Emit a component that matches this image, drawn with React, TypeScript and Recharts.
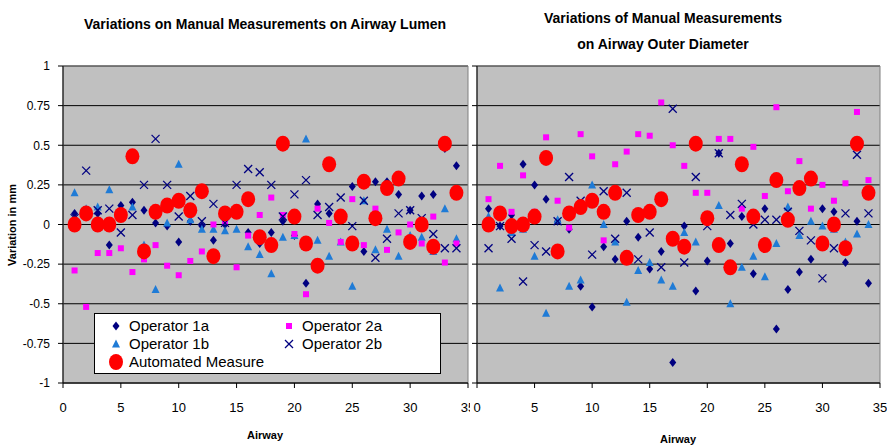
import { ScatterChart, Scatter, XAxis, YAxis, CartesianGrid, ReferenceArea } from "recharts";

// airway number on the x axis
const AIRWAY = [1, 2, 3, 4, 5, 6, 7, 8, 9, 10, 11, 12, 13, 14, 15, 16, 17, 18, 19, 20, 21, 22, 23, 24, 25, 26, 27, 28, 29, 30, 31, 32, 33, 34];

const X_TICKS = [0, 5, 10, 15, 20, 25, 30, 35];
const Y_TICKS = [-1, -0.75, -0.5, -0.25, 0, 0.25, 0.5, 0.75, 1];

// lumen (left panel)
const LUMEN_1A = [0.07, 0.06, 0.07, -0.13, 0.12, 0.14, 0.09, 0.01, -0.01, -0.11, 0.02, -0.01, -0.1, 0.0, 0.07, -0.05, -0.12, -0.05, 0.02, -0.07, -0.37, 0.13, 0.07, 0.03, 0.24, -0.17, 0.27, 0.27, 0.19, 0.09, 0.18, 0.19, 0.48, 0.37];
const LUMEN_1B = [0.2, 0.1, 0.11, 0.22, 0.08, 0.11, -0.13, -0.41, 0.01, 0.38, 0.03, -0.03, -0.03, -0.04, -0.03, -0.14, -0.19, -0.31, -0.08, -0.07, 0.54, -0.1, -0.2, -0.11, -0.39, 0.15, -0.16, -0.03, -0.2, -0.07, -0.08, -0.17, 0.1, -0.09];
const LUMEN_2A = [-0.29, -0.52, -0.18, -0.18, -0.15, -0.3, -0.22, -0.13, -0.26, -0.32, -0.23, -0.17, 0.0, 0.02, -0.27, -0.07, 0.06, 0.17, 0.06, -0.06, -0.44, 0.1, 0.01, -0.11, 0.16, -0.13, 0.1, -0.16, -0.05, 0.0, -0.12, 0.05, -0.24, -0.12];
const LUMEN_2B = [0.04, 0.34, 0.09, 0.1, -0.05, 0.06, 0.25, 0.54, 0.25, 0.05, 0.18, 0.02, 0.13, 0.01, 0.25, 0.35, 0.33, 0.25, 0.05, 0.19, 0.28, 0.06, 0.11, 0.17, -0.01, 0.15, -0.21, -0.09, 0.07, 0.09, 0.04, -0.06, -0.15, -0.15];
const LUMEN_AUTO = [0.0, 0.07, 0.0, 0.0, 0.06, 0.43, -0.17, 0.08, 0.12, 0.15, 0.09, 0.21, -0.2, 0.07, 0.08, 0.16, -0.08, -0.13, 0.51, 0.05, -0.12, -0.26, 0.38, 0.05, -0.12, 0.27, 0.04, 0.23, 0.29, -0.11, 0.0, -0.14, 0.51, 0.2];

// outer diameter (right panel)
const OUTER_1A = [0.1, -0.01, 0.06, 0.38, 0.25, 0.16, 0.02, -0.03, -0.39, -0.52, -0.14, -0.22, 0.02, -0.08, -0.28, -0.17, -0.87, -0.01, -0.42, -0.23, 0.45, -0.12, 0.05, -0.31, 0.1, -0.66, -0.41, -0.3, -0.22, 0.1, 0.08, -0.24, 0.02, -0.37];
const OUTER_1B = [0.05, -0.4, -0.05, -0.03, -0.2, -0.56, 0.03, -0.39, -0.35, 0.25, 0.0, -0.11, -0.49, -0.29, -0.24, -0.35, -0.39, -0.05, -0.11, 0.02, 0.12, -0.5, -0.27, -0.2, -0.33, -0.12, 0.11, -0.07, 0.02, -0.01, -0.03, -0.11, -0.06, 0.0];
const OUTER_2A = [0.16, 0.37, 0.08, 0.31, 0.08, 0.55, 0.15, -0.02, 0.57, 0.43, -0.1, 0.38, 0.46, 0.57, 0.56, 0.77, 0.5, 0.37, 0.2, 0.2, 0.54, 0.54, 0.1, 0.49, 0.18, 0.74, 0.21, 0.4, 0.1, 0.25, 0.15, 0.26, 0.71, 0.28];
const OUTER_2B = [-0.15, -0.01, -0.09, -0.36, -0.13, -0.17, 0.02, 0.3, 0.15, -0.19, 0.21, -0.09, 0.2, -0.22, -0.05, -0.27, 0.73, -0.24, 0.3, -0.01, 0.45, 0.06, 0.13, 0.0, 0.03, 0.03, 0.08, -0.04, -0.1, -0.34, -0.15, 0.07, 0.44, 0.07];
const OUTER_AUTO = [0.0, 0.07, -0.01, 0.0, 0.05, 0.42, -0.17, 0.07, 0.11, 0.15, 0.08, 0.2, -0.21, 0.06, 0.08, 0.16, -0.09, -0.14, 0.51, 0.04, -0.13, -0.27, 0.38, 0.05, -0.13, 0.28, 0.03, 0.23, 0.29, -0.12, 0.0, -0.15, 0.51, 0.2];

const FONT = "Arial, 'Liberation Sans', sans-serif";
const NAVY = "#000080";
const BLUE = "#1F7BD6";
const MAGENTA = "#FF00FF";
const RED = "#FF0000";

const toPoints = (ys: number[]) => AIRWAY.map((x, i) => ({ x, y: ys[i] }));

function Diamond({ cx, cy }: any) {
  return <polygon points={`${cx},${cy - 4.5} ${cx + 3.5},${cy} ${cx},${cy + 4.5} ${cx - 3.5},${cy}`} fill={NAVY} />;
}
function Triangle({ cx, cy }: any) {
  return <polygon points={`${cx},${cy - 4.5} ${cx + 4},${cy + 3.5} ${cx - 4},${cy + 3.5}`} fill={BLUE} />;
}
function Square({ cx, cy }: any) {
  return <rect x={cx - 3} y={cy - 3} width={6} height={6} fill={MAGENTA} />;
}
function Cross({ cx, cy }: any) {
  return (
    <g stroke={NAVY} strokeWidth={1.3}>
      <line x1={cx - 4} y1={cy - 4} x2={cx + 4} y2={cy + 4} />
      <line x1={cx - 4} y1={cy + 4} x2={cx + 4} y2={cy - 4} />
    </g>
  );
}
function Dot({ cx, cy }: any) {
  return <ellipse cx={cx} cy={cy} rx={7} ry={8} fill={RED} />;
}

function LegendBox() {
  const row = (shape: any, label: string, x: number, y: number) => (
    <div style={{ position: "absolute", left: x, top: y, display: "flex", alignItems: "center", whiteSpace: "nowrap", lineHeight: "18px" }}>
      <svg width={14} height={16} style={{ marginRight: 6 }}>
        {shape}
      </svg>
      <span>{label}</span>
    </div>
  );
  return (
    <div
      style={{
        position: "absolute",
        left: 94,
        top: 313,
        width: 345,
        height: 59,
        background: "#fff",
        border: "1px solid #000",
        fontFamily: FONT,
        fontSize: 15,
        color: "#000",
      }}
    >
      {row(<Diamond cx={7} cy={8} />, "Operator 1a", 14, 3)}
      {row(<Square cx={7} cy={8} />, "Operator 2a", 187, 3)}
      {row(<Triangle cx={7} cy={8} />, "Operator 1b", 14, 21)}
      {row(<Cross cx={7} cy={8} />, "Operator 2b", 187, 21)}
      {row(<Dot cx={7} cy={8} />, "Automated Measure", 14, 39)}
    </div>
  );
}

interface PanelProps {
  width: number;
  yAxisWidth: number;
  showYLabels: boolean;
  a1: number[];
  b1: number[];
  a2: number[];
  b2: number[];
  auto: number[];
}

function Panel({ width, yAxisWidth, showYLabels, a1, b1, a2, b2, auto }: PanelProps) {
  return (
    <ScatterChart width={width} height={446} margin={{ top: 66, right: 7, bottom: 33, left: 0 }}>
      <CartesianGrid vertical={false} horizontal stroke="#000" fill="#C0C0C0" fillOpacity={1} />
      <XAxis
        type="number"
        dataKey="x"
        domain={[0, 35]}
        ticks={X_TICKS}
        allowDataOverflow
        height={30}
        axisLine={{ stroke: "#000" }}
        tickLine={{ stroke: "#000" }}
        tickSize={5}
        tickMargin={15}
        tick={{ fontSize: 13, fill: "#000", fontFamily: FONT }}
        interval={0}
      />
      <YAxis
        type="number"
        dataKey="y"
        domain={[-1, 1]}
        ticks={Y_TICKS}
        allowDataOverflow
        width={yAxisWidth}
        axisLine={{ stroke: "#000" }}
        tickLine={{ stroke: "#000" }}
        tickSize={5}
        tickMargin={8}
        interval={0}
        tick={{ fontSize: 12, fill: "#000", fontFamily: FONT }}
        tickFormatter={showYLabels ? undefined : () => ""}
      />
      <ReferenceArea x1={0} x2={35} y1={-1} y2={1} fill="none" stroke="#808080" strokeWidth={1} ifOverflow="visible" />
      <Scatter data={toPoints(a1)} shape={(p: any) => <Diamond cx={p.cx} cy={p.cy} />} isAnimationActive={false} />
      <Scatter data={toPoints(b1)} shape={(p: any) => <Triangle cx={p.cx} cy={p.cy} />} isAnimationActive={false} />
      <Scatter data={toPoints(a2)} shape={(p: any) => <Square cx={p.cx} cy={p.cy} />} isAnimationActive={false} />
      <Scatter data={toPoints(b2)} shape={(p: any) => <Cross cx={p.cx} cy={p.cy} />} isAnimationActive={false} />
      <Scatter data={toPoints(auto)} shape={(p: any) => <Dot cx={p.cx} cy={p.cy} />} isAnimationActive={false} />
    </ScatterChart>
  );
}

export default function App() {
  const bold = { fontFamily: FONT, fontWeight: 700, color: "#000" } as const;
  return (
    <div style={{ position: "absolute", left: 0, top: 0, width: 887, height: 446, background: "#fff", overflow: "hidden" }}>
      <div style={{ position: "absolute", left: 0, top: 0 }}>
        <Panel width={475} yAxisWidth={63} showYLabels a1={LUMEN_1A} b1={LUMEN_1B} a2={LUMEN_2A} b2={LUMEN_2B} auto={LUMEN_AUTO} />
      </div>
      <LegendBox />
      <div style={{ ...bold, position: "absolute", left: 265, top: 16, transform: "translateX(-50%)", fontSize: 14, whiteSpace: "nowrap" }}>
        Variations on Manual Measurements on Airway Lumen
      </div>
      <div style={{ ...bold, position: "absolute", left: 12, top: 225, transform: "translate(-50%, -50%) rotate(-90deg)", fontSize: 11, whiteSpace: "nowrap" }}>
        Variation in mm
      </div>
      <div style={{ ...bold, position: "absolute", left: 265, top: 429, transform: "translateX(-50%)", fontSize: 11 }}>Airway</div>

      <div style={{ position: "absolute", left: 470, top: 0, width: 417, height: 446, background: "#fff" }}>
        <Panel width={417} yAxisWidth={7} showYLabels={false} a1={OUTER_1A} b1={OUTER_1B} a2={OUTER_2A} b2={OUTER_2B} auto={OUTER_AUTO} />
        <div style={{ ...bold, position: "absolute", left: 193, top: 5, transform: "translateX(-50%)", fontSize: 14, textAlign: "center", lineHeight: "26px", whiteSpace: "nowrap" }}>
          Variations of Manual Measurements
          <br />
          on Airway Outer Diameter
        </div>
        <div style={{ ...bold, position: "absolute", left: 208, top: 433, transform: "translateX(-50%)", fontSize: 11 }}>Airway</div>
      </div>
    </div>
  );
}
